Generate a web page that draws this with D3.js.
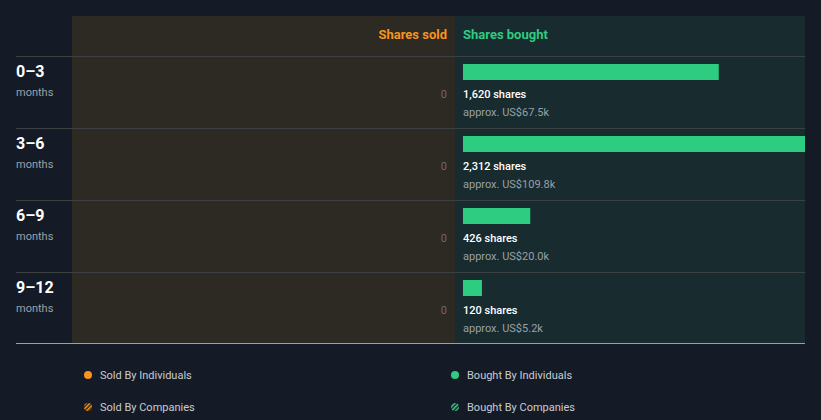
<!DOCTYPE html>
<html><head><meta charset="utf-8">
<script src="https://cdn.jsdelivr.net/npm/d3@7"></script>
<style>
html,body{margin:0;padding:0;background:#151b26;}
svg{display:block;font-family:Roboto,"Noto Sans",sans-serif;}
</style></head>
<body>
<svg id="chart" width="821" height="420"></svg>
<script>
const periods = ["0–3", "3–6", "6–9", "9–12"];
const periodUnit = ["months", "months", "months", "months"];
const sharesSold = [0, 0, 0, 0];
const sharesBought = [1620, 2312, 426, 120];
const boughtValue = ["US$67.5k", "US$109.8k", "US$20.0k", "US$5.2k"];
const legendItems = ["Sold By Individuals", "Bought By Individuals", "Sold By Companies", "Bought By Companies"];

(function () {
const svg = d3.select("#chart");
const padL = 16, soldX0 = 72, mid = 455, padR = 805;
const padT = 16, headH = 40, rowH = 72;
const chartBottom = padT + headH + rowH * periods.length;

const orange = "#f7941d", green = "#2ecc80";

const defs = svg.append("defs");
const mkHatch = (id, col) => {
  const p = defs.append("pattern").attr("id", id).attr("patternUnits", "userSpaceOnUse")
    .attr("width", 3).attr("height", 3).attr("patternTransform", "rotate(45)");
  p.append("rect").attr("width", 3).attr("height", 3).attr("fill", "#151b26");
  p.append("rect").attr("width", 1.6).attr("height", 3).attr("fill", col);
};
mkHatch("hatchO", orange); mkHatch("hatchG", green);
defs.append("clipPath").attr("id", "clipB").append("rect")
  .attr("x", mid).attr("y", padT).attr("width", padR - mid).attr("height", chartBottom - padT);

// panels
svg.append("rect").attr("x", soldX0).attr("y", padT).attr("width", mid - soldX0).attr("height", chartBottom - padT).attr("fill", "#2d2923");
svg.append("rect").attr("x", mid).attr("y", padT).attr("width", padR - mid).attr("height", chartBottom - padT).attr("fill", "#182b2f");

// headers
svg.append("text").attr("x", mid - 8).attr("y", padT + 23).attr("text-anchor", "end")
  .attr("fill", orange).attr("font-size", 13).attr("font-weight", 700).text("Shares sold");
svg.append("text").attr("x", mid + 8).attr("y", padT + 23)
  .attr("fill", green).attr("font-size", 13).attr("font-weight", 700).text("Shares bought");

const y = d3.scaleBand().domain(periods).range([padT + headH, chartBottom]);
const x = d3.scaleLinear().domain([0, d3.max(sharesBought)]).range([0, 365]);

// row lines
periods.forEach((p) => {
  svg.append("line").attr("x1", padL).attr("x2", padR)
    .attr("y1", y(p) + 0.5).attr("y2", y(p) + 0.5)
    .attr("stroke", "#3c4040").attr("stroke-width", 1);
});
svg.append("line").attr("x1", padL).attr("x2", padR)
  .attr("y1", chartBottom - 0.5).attr("y2", chartBottom - 0.5).attr("stroke", "#9aa0a6").attr("stroke-width", 1);

// bars (clipped to bought panel)
svg.append("g").attr("clip-path", "url(#clipB)")
  .selectAll("rect").data(periods).join("rect")
  .attr("x", mid + 8).attr("y", d => y(d) + 8).attr("height", 16)
  .attr("width", (d, i) => x(sharesBought[i])).attr("fill", green);

const rows = svg.selectAll("g.row").data(periods).join("g").attr("class", "row")
  .attr("transform", d => `translate(0,${y(d)})`);

rows.append("text").attr("x", padL).attr("y", 21).attr("fill", "#fff")
  .attr("font-size", 16).attr("font-weight", 700).text(d => d);
rows.append("text").attr("x", padL).attr("y", 40).attr("fill", "#9aa0a6")
  .attr("font-size", 11).text((d, i) => periodUnit[i]);

rows.append("text").attr("x", mid - 8).attr("y", 42).attr("text-anchor", "end")
  .attr("fill", "#6b6b6b").attr("font-size", 11).text((d, i) => d3.format(",")(sharesSold[i]));

rows.append("text").attr("x", mid + 8).attr("y", 42).attr("fill", "#fff")
  .attr("font-size", 11).attr("font-weight", 500).text((d, i) => d3.format(",")(sharesBought[i]) + " shares");
rows.append("text").attr("x", mid + 8).attr("y", 60).attr("fill", "#9aa0a6")
  .attr("font-size", 11).text((d, i) => "approx. " + boughtValue[i]);

// legend
const legPos = [[88, 375], [455, 375], [88, 407], [455, 407]];
const legFill = [orange, green, "url(#hatchO)", "url(#hatchG)"];
legendItems.forEach((t, i) => {
  const [lx, ly] = legPos[i];
  svg.append("circle").attr("cx", lx).attr("cy", ly).attr("r", 4).attr("fill", legFill[i]);
  svg.append("text").attr("x", lx + 12).attr("y", ly + 4).attr("fill", "#c8ccd0")
    .attr("font-size", 11).text(t);
});
})();
</script>
</body></html>
